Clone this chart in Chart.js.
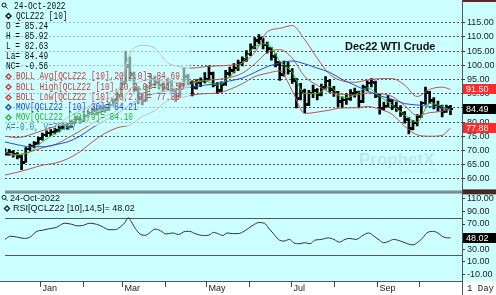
<!DOCTYPE html>
<html>
<head>
<meta charset="utf-8">
<script src="https://cdn.jsdelivr.net/npm/chart.js@4.4.0/dist/chart.umd.min.js"></script>
<style>
  html, body { margin: 0; padding: 0; background: #fff; }
  canvas { display: block; }
</style>
</head>
<body>
<canvas id="chart" width="496" height="295"></canvas>
<script>
// days are counted from 1 Jan 2022; one bar every 3 days
const firstDay = -25;
const barStep = 3;

const opens = [69.8,68.8,69.4,68.8,67.6,66.0,70.6,71.4,72.6,74.0,75.4,76.2,76.5,77.0,78.2,79.0,78.6,80.1,81.0,80.6,
  82.2,83.1,84.0,83.6,85.0,84.5,86.1,87.4,89.4,94.0,99.5,96.4,91.4,88.4,87.8,92.4,95.0,93.8,93.0,92.2,
  94.0,91.0,89.3,93.2,96.0,93.8,92.2,93.8,94.6,95.3,96.8,93.0,91.2,93.4,97.2,98.2,99.0,100.8,102.2,104.0,
  106.4,108.8,109.2,107.0,105.6,103.0,100.6,96.8,99.8,98.0,94.6,88.4,90.6,86.4,90.2,91.0,89.8,92.4,94.4,91.4,
  90.2,87.4,87.8,88.2,90.0,90.4,87.4,92.2,93.8,93.8,89.2,84.8,85.8,87.4,85.4,84.6,83.0,80.8,77.8,79.8,
  82.0,86.8,90.2,87.4,86.0,85.4,83.8,85.24];
const highs = [70.6,70.4,69.9,69.2,68.3,71.0,72.2,73.1,74.6,76.1,76.9,77.3,77.8,78.9,79.8,79.6,80.7,82.0,81.8,82.8,
  83.9,85.0,84.8,86.0,85.9,86.9,88.3,90.6,95.5,105.0,103.0,97.6,92.6,90.2,93.2,96.8,96.2,95.0,93.9,95.2,
  94.6,91.8,93.8,99.0,96.8,94.5,95.0,95.6,97.4,99.8,97.6,93.9,94.2,98.2,99.4,100.6,101.8,103.0,105.2,107.6,
  109.8,110.8,109.6,108.2,106.2,104.0,101.2,101.5,101.0,98.8,95.4,93.6,91.6,91.2,93.0,91.8,93.4,96.0,95.0,92.6,
  90.8,88.9,90.0,91.4,92.0,90.9,93.0,94.6,95.3,94.4,89.8,87.0,89.4,88.0,87.0,85.8,83.7,81.6,80.6,82.6,
  87.2,92.3,90.8,88.6,87.4,86.0,86.0,85.92];
const lows = [68.2,68.3,67.6,67.0,63.2,65.8,70.0,71.0,72.2,73.6,74.8,75.2,75.8,76.5,77.6,77.5,78.2,79.6,79.5,80.2,
  81.6,82.6,82.5,83.1,83.4,84.1,85.6,87.0,89.0,93.5,94.6,90.6,86.4,86.0,87.4,91.8,92.8,91.6,90.8,91.5,
  90.5,87.2,88.8,92.6,93.2,89.2,91.6,92.5,93.8,94.8,92.4,90.0,90.6,92.9,96.2,97.3,98.1,99.8,101.4,103.4,
  105.8,107.6,105.8,104.3,101.8,99.4,94.7,96.2,96.9,93.6,85.0,87.8,83.3,85.8,88.6,87.8,89.2,91.6,90.4,89.0,
  85.4,85.0,86.2,87.6,88.8,85.0,86.8,91.0,92.4,88.6,82.8,84.2,85.2,84.4,83.7,82.0,79.6,75.8,77.2,78.6,
  81.6,86.2,86.6,84.6,83.8,81.8,83.4,82.63];
const closes = [69.0,69.6,68.6,68.0,65.6,70.4,71.5,72.4,74.2,75.6,76.0,76.4,77.1,78.0,79.1,78.4,80.0,81.2,80.4,82.1,
  83.0,84.2,83.4,85.1,84.3,86.0,87.2,89.0,93.5,100.2,97.0,92.0,88.1,87.6,92.0,95.2,94.0,93.1,92.0,94.1,
  91.2,89.0,93.1,96.2,94.0,92.0,93.6,94.5,95.1,97.2,93.1,91.0,93.2,97.1,98.0,99.1,100.6,102.0,104.1,106.2,
  108.6,109.5,107.1,106.0,103.1,101.0,96.6,99.6,98.1,95.0,88.1,91.0,86.1,90.1,91.2,89.6,92.1,94.6,91.6,90.5,
  87.1,87.6,88.1,90.1,90.6,87.1,92.1,93.6,94.1,89.6,84.6,85.6,87.6,85.6,84.5,83.1,81.1,77.6,79.6,81.6,
  86.6,90.6,87.6,86.1,85.6,83.6,85.1,84.49];

// study lines, read every 9 days
const lineDays = [-25,-16,-7,2,11,20,29,38,47,56,65,74,83,92,101,110,119,128,137,146,155,164,173,182,191,200,209,218,227,236,245,254,263,272,281,290,296];
const bollHigh = [75,74.5,75.5,77,78.5,81.5,84,86,88,90.5,104,107,106,101,99.5,99,99.5,99.8,100,100.8,104.5,111.8,113,114,109,102.5,96.8,94.5,94,94.8,95.3,95.3,93,89,91.5,92.3,91.5];
const bollAvg = [68.2,68.4,69.5,70.9,72,74.3,76.8,79.5,82,84.3,91.5,94.5,95,94.2,94,94.2,94.7,95,95.7,97.2,100.5,104.5,105.5,102.5,96,93,90.5,89.8,89.5,90.2,90,89,85.8,82.3,83.3,83.8,84.69];
const bollLow = [61.3,62.3,63.5,64.8,65.5,67,69.5,73,76,78,79,82,84,87.5,88.5,89.5,90,90.2,91.5,93.5,96,97.2,98,91,83,83.5,84.2,85,85,85.5,84.5,82.7,78.5,75.5,75,75.3,77.88];
const mov36 = [73,72,71.3,71.3,72,73,75,78,80.5,83,86,88.5,90,91,91.8,92.3,93,93.6,94.5,95.5,97.5,99.5,100.8,101.5,100.5,99,97.5,95,93,91,89.3,88,86.5,86,85.5,84.8,84.21];
const mov9 = [69.2,68.5,69.5,73,76,78.2,80.2,83,84.5,87.5,95,91.5,92.5,92.5,91.5,93.5,94.5,93,96,101,106.5,107.5,101.5,97.5,90,90,92.5,88.5,89.5,92,89,86,82.5,80,86.5,85.5,84.10];

const rsiDays = [-25,-21,-16,-11,-7,-2,2,7,12,18,23,27,31,36,41,45,50,54,57,61,64,66,70,73,76,80,83,87,91,96,
  100,105,108,112,118,123,125,129,132,135,139,143,148,153,158,162,165,169,173,176,180,183,187,191,195,198,203,208,212,216,
  220,223,228,233,237,241,245,248,252,255,260,265,269,272,276,279,283,287,290,294,296];
const rsiValues = [45.4,50.5,49,47,49,58.3,60,62.5,64.5,71.2,69.6,67.1,67.6,71.2,69.6,66,60.9,60.9,63.4,71.2,80,73.8,59.4,53.2,52,57.2,61.9,59.4,54.1,55.7,
  53.2,58.3,58.3,54.7,51.6,53.2,56.7,54.1,51.6,55.7,54.7,54.7,59.4,67,72.3,71.2,63.4,53.2,43.9,42.8,45.4,40.1,38.6,40.1,38.6,43.9,45.4,47.9,45.4,41.2,
  45.4,47,45.4,52,55.7,50.5,43.9,40.1,42.8,45.4,42.8,38.6,36.6,40.1,47.9,55.7,58.3,55.7,50.5,47.9,48.02];

const priceTicks = [60,65,70,75,80,85,90,95,100,105,110,115];
const rsiTicks = [-10,10,30,50,70,90,110];
const rsiGuides = [80,20];
const monthStarts = [0,31,59,90,120,151,181,212,243,273];
const monthNames = ['Jan','Feb','Mar','Apr','May','Jun','Jul','Aug','Sep','Oct'];
const shownMonths = ['Jan','Mar','May','Jul','Sep'];

const SANS = '"Liberation Sans", Arial, sans-serif';
const MONO = '"Liberation Mono", monospace';
const BG = '#ccffff';
const last = arr => arr[arr.length - 1];

const barDays = closes.map((c, i) => firstDay + i * barStep);
const pts = (xs, ys) => xs.map((x, i) => ({x: x, y: ys[i]}));

function tickImage(side) {
  const c = document.createElement('canvas');
  c.width = 6; c.height = 2;
  const g = c.getContext('2d');
  g.fillStyle = '#000';
  g.fillRect(side < 0 ? 0 : 4, 0, 2, 2);
  return c;
}

function monoText(ctx, s, x, y, color) {
  ctx.save();
  ctx.translate(x, y);
  ctx.scale(0.78, 1);
  ctx.font = '10px ' + MONO;
  ctx.fillStyle = color;
  ctx.textBaseline = 'middle';
  ctx.textAlign = 'left';
  ctx.fillText(s, 0, 0);
  ctx.restore();
}
function diamond(ctx, x, y, color) {
  ctx.save();
  ctx.strokeStyle = color; ctx.lineWidth = 1.4;
  ctx.beginPath();
  ctx.moveTo(x, y - 2.5); ctx.lineTo(x + 2.5, y); ctx.lineTo(x, y + 2.5); ctx.lineTo(x - 2.5, y);
  ctx.closePath(); ctx.stroke();
  ctx.restore();
}
function magnifier(ctx, x, y, color) {
  ctx.save();
  ctx.strokeStyle = color; ctx.lineWidth = 1;
  ctx.beginPath(); ctx.arc(x, y - 1, 2, 0, Math.PI * 2); ctx.stroke();
  ctx.beginPath(); ctx.moveTo(x + 1.5, y + 0.5); ctx.lineTo(x + 3.5, y + 2.5); ctx.stroke();
  ctx.restore();
}
function hline(ctx, x1, x2, y, color) {
  ctx.strokeStyle = color; ctx.lineWidth = 1;
  ctx.beginPath(); ctx.moveTo(x1, y); ctx.lineTo(x2, y); ctx.stroke();
}
function valueBox(ctx, scale, v, bg, left, right) {
  const y = Math.round(scale.getPixelForValue(v));
  ctx.fillStyle = bg;
  ctx.fillRect(left + 1, y - 5, right - left - 1, 10);
  ctx.fillStyle = '#fff';
  ctx.font = '9px ' + SANS;
  ctx.textBaseline = 'middle';
  ctx.textAlign = 'left';
  ctx.fillText(v.toFixed(2), left + 4, y + 0.5);
}

const furniture = {
  id: 'furniture',
  beforeDraw(chart) {
    const {ctx, chartArea: a} = chart;
    ctx.save();
    ctx.fillStyle = '#fff';
    ctx.fillRect(0, 0, chart.width, chart.height);
    ctx.fillStyle = BG;
    ctx.fillRect(0, 0, chart.width, a.bottom);
    ctx.restore();
  },
  beforeDatasetsDraw(chart) {
    const {ctx, chartArea: a} = chart;
    const ry = chart.scales.y2;
    ctx.save();
    // watermark
    ctx.fillStyle = 'rgba(120,145,155,0.2)';
    ctx.font = 'bold 17px ' + SANS;
    ctx.textBaseline = 'middle';
    ctx.fillText('ProphetX', 359, 160);
    ctx.font = '5px ' + SANS;
    ctx.fillText('Powered by DTN', 400, 172);
    // rsi guide lines
    rsiGuides.forEach(v => hline(ctx, a.left, a.right, Math.round(ry.getPixelForValue(v)) + 0.5, '#555'));
    // pane separator
    ctx.fillStyle = '#7b9797';
    ctx.fillRect(a.left, ry.top - 2, a.right - a.left, 2);
    hline(ctx, a.left, a.right, ry.top + 0.5, '#555');
    ctx.restore();
  },
  afterDatasetsDraw(chart) {
    const {ctx} = chart;
    ctx.save();
    // legend block fades what lies behind it
    ctx.fillStyle = 'rgba(204,255,255,0.62)';
    ctx.fillRect(0, 0, 190, 126);
    const rows = [
      ['mag', '24-Oct-2022', '#111', 6],
      ['dia', 'QCLZ22 [10]', '#111', 16],
      ['', 'O = ' + last(opens).toFixed(2), '#111', 26],
      ['', 'H = ' + last(highs).toFixed(2), '#111', 36],
      ['', 'L = ' + last(lows).toFixed(2), '#111', 46],
      ['', 'La= ' + last(closes).toFixed(2), '#111', 56],
      ['', 'NC= -0.56', '#111', 66],
      ['dia', 'BOLL Avg[QCLZ22 [10],20,2.0]= ' + last(bollAvg).toFixed(2), '#d03a3a', 76.5],
      ['dia', 'BOLL High[QCLZ22 [10],20,2.0]= ' + last(bollHigh).toFixed(2), '#d03a3a', 87],
      ['dia', 'BOLL Low[QCLZ22 [10],20,2.0]= ' + last(bollLow).toFixed(2), '#d03a3a', 97.5],
      ['dia', 'MOV[QCLZ22 [10],36]= ' + last(mov36).toFixed(2), '#2a48d0', 107.3],
      ['dia', 'MOV[QCLZ22 [10],9]= ' + last(mov9).toFixed(2), '#2fb02f', 117.5],
      ['', 'A=-0.0, V=73.97', '#3a78a8', 127.7]
    ];
    rows.forEach(([icon, text, color, y]) => {
      if (icon === 'mag') { magnifier(ctx, 4, y, color); monoText(ctx, text, 14, y, color); }
      else if (icon === 'dia') { diamond(ctx, 8.5, y, color); monoText(ctx, text, 16, y, color); }
      else monoText(ctx, text, 6, y, color);
    });
    // title
    ctx.fillStyle = '#111';
    ctx.font = 'bold 11px ' + SANS;
    ctx.textBaseline = 'middle';
    ctx.textAlign = 'left';
    ctx.fillText('Dec22 WTI Crude', 345, 47);
    // rsi pane header
    const ry = chart.scales.y2;
    magnifier(ctx, 4, ry.top + 6, '#222');
    ctx.fillStyle = '#111';
    ctx.font = '9px ' + SANS;
    ctx.fillText('24-Oct-2022', 10, ry.top + 6);
    diamond(ctx, 7, ry.top + 16, '#222');
    ctx.fillStyle = '#111';
    ctx.fillText('RSI[QCLZ22 [10],14,5]= ' + last(rsiValues).toFixed(2), 13, ry.top + 16);
    ctx.restore();
  },
  afterDraw(chart) {
    const {ctx, chartArea: a, width: W, height: H} = chart;
    const py = chart.scales.y, ry = chart.scales.y2, xs = chart.scales.x;
    ctx.save();
    // axis lines
    hline(ctx, 0, a.right, a.bottom + 0.5, '#555');
    ctx.strokeStyle = '#555';
    ctx.beginPath(); ctx.moveTo(a.right + 0.5, 0); ctx.lineTo(a.right + 0.5, H); ctx.stroke();
    // dark bands at the top of each value axis
    ctx.fillStyle = '#5a2a2a';
    ctx.fillRect(a.right + 1, 0, W - a.right, 2);
    ctx.fillStyle = '#4a2623';
    ctx.fillRect(a.right + 1, ry.top - 3, W - a.right, 5);
    // last values
    valueBox(ctx, py, last(bollHigh), '#ff2a2a', a.right, W);
    valueBox(ctx, py, last(closes), '#000', a.right, W);
    valueBox(ctx, py, last(bollLow), '#ff2a2a', a.right, W);
    valueBox(ctx, ry, last(rsiValues), '#000', a.right, W);
    // month ticks and labels
    ctx.font = '9px ' + SANS;
    ctx.textBaseline = 'middle';
    ctx.textAlign = 'left';
    monthStarts.forEach((d, i) => {
      const x = Math.round(xs.getPixelForValue(d)) + 0.5;
      ctx.strokeStyle = '#444';
      ctx.beginPath(); ctx.moveTo(x, a.bottom); ctx.lineTo(x, a.bottom + 6); ctx.stroke();
      if (shownMonths.includes(monthNames[i])) {
        ctx.fillStyle = '#222';
        ctx.fillText(monthNames[i], x + 2, a.bottom + 8);
      }
    });
    ctx.font = '9px ' + MONO;
    ctx.fillStyle = '#222';
    ctx.fillText('1 Day', a.right + 5, a.bottom + 8);
    ctx.restore();
  }
};

const line = (data, color, axis) => ({
  type: 'line', data: data, yAxisID: axis, borderColor: color, borderWidth: 1,
  pointRadius: 0, cubicInterpolationMode: 'monotone', fill: false
});

new Chart(document.getElementById('chart'), {
  type: 'bar',
  data: {
    datasets: [
      line(pts(lineDays, mov9), '#22c022', 'y'),
      line(pts(lineDays, mov36), '#2a48d0', 'y'),
      line(pts(lineDays, bollAvg), '#c05050', 'y'),
      line(pts(lineDays, bollHigh), '#c05050', 'y'),
      line(pts(lineDays, bollLow), '#c05050', 'y'),
      line(pts(rsiDays, rsiValues), '#333', 'y2'),
      { type: 'line', showLine: false, data: pts(barDays, opens), yAxisID: 'y',
        pointStyle: tickImage(-1), pointRadius: 3 },
      { type: 'line', showLine: false, data: pts(barDays, closes), yAxisID: 'y',
        pointStyle: tickImage(1), pointRadius: 3 },
      { type: 'bar', yAxisID: 'y', backgroundColor: '#000', borderWidth: 0, barThickness: 2,
        grouped: false, data: barDays.map((d, i) => ({x: d, y: [lows[i], highs[i]]})) }
    ]
  },
  options: {
    responsive: false,
    animation: false,
    devicePixelRatio: 1,
    layout: { padding: 0 },
    plugins: { legend: { display: false }, tooltip: { enabled: false } },
    scales: {
      x: {
        type: 'linear', min: -24.95, max: 304.3, offset: false,
        grid: { display: false }, border: { display: false }, ticks: { display: false },
        afterFit(s) { s.height = 14; }
      },
      y: {
        type: 'linear', position: 'right', stack: 'panes', stackWeight: 190,
        min: 55.2, max: 120.4,
        afterBuildTicks(s) { s.ticks = priceTicks.map(v => ({value: v})); },
        afterFit(s) { s.width = 34; },
        grid: { color: '#555', tickColor: '#333', tickLength: 3 },
        border: { display: false, dash: [2, 2] },
        ticks: { autoSkip: false, font: { family: SANS, size: 9 }, color: '#222', padding: 2,
          callback: v => Number(v).toFixed(2) }
      },
      y2: {
        type: 'linear', position: 'right', stack: 'panes', stackWeight: 91,
        min: -20.9, max: 120.4,
        afterBuildTicks(s) { s.ticks = rsiTicks.map(v => ({value: v})); },
        afterFit(s) { s.width = 34; },
        grid: { drawOnChartArea: false, tickColor: '#333', tickLength: 3 },
        border: { display: false },
        ticks: { autoSkip: false, font: { family: SANS, size: 9 }, color: '#222', padding: 2,
          callback: v => Number(v).toFixed(2) }
      }
    }
  },
  plugins: [furniture]
});
</script>
</body>
</html>
